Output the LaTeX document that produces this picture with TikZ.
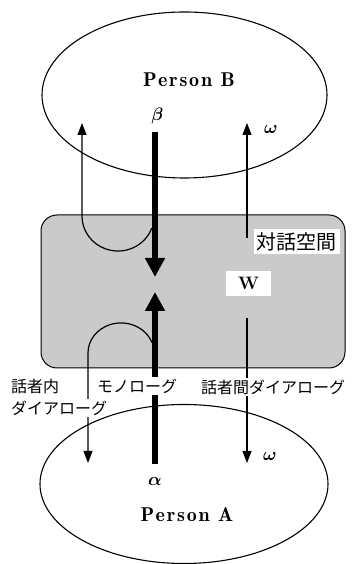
\documentclass[tikz,border=0pt]{standalone}
\usepackage{fontspec}
\newfontfamily\jp{Noto Sans CJK JP}
\newfontfamily\personfont{lmromandemi10-regular.otf}[LetterSpace=9]
\newfontfamily\greekfont{latinmodern-math.otf}
\usetikzlibrary{arrows.meta,shapes.geometric}
\definecolor{boxgray}{RGB}{202,202,202}
\begin{document}
\begin{tikzpicture}[x=1pt,y=1pt,
  thinarrow/.style={line width=1.2pt,-{Triangle[length=12pt,width=9pt]}},
  thickarrow/.style={line width=6pt,-{Triangle[length=19pt,width=19pt]}},
  personellipse/.style={ellipse,draw,line width=1.1pt,inner sep=0pt},
  jplabel/.style={font=\jp\fontsize{16}{16}\selectfont,fill=white,inner xsep=2pt,inner ysep=2pt,anchor=west},
  greek/.style={font=\greekfont\fontsize{18}{18}\selectfont,inner sep=0pt},
  personlabel/.style={font=\personfont\fontsize{20}{20}\selectfont,inner sep=0pt}]
\useasboundingbox (0,0) rectangle (352,564);
% dialogue space
\node[draw,line width=1pt,fill=boxgray,rounded corners=16pt,minimum width=304pt,minimum height=153pt] (space) at (193,272.5) {};
% coordinates
\coordinate (tlStart) at (151.8,336);
\coordinate (tlEnd) at (82,441);
\coordinate (trStart) at (247,326);
\coordinate (trEnd) at (247,441);
\coordinate (tbStart) at (155,432);
\coordinate (tbEnd) at (155,287);
\coordinate (bbStart) at (155,100);
\coordinate (bbEnd) at (155,272);
\coordinate (brStart) at (247,246);
\coordinate (brEnd) at (247,101);
\coordinate (blStart) at (152.0,221.3);
\coordinate (blEnd) at (88,101);
% arrows
\draw[thinarrow] (tlStart) arc[start angle=-20,end angle=-180,x radius=36pt,y radius=35pt] -- (tlEnd);
\draw[thinarrow] (trStart) -- (trEnd);
\draw[thickarrow] (tbStart) -- (tbEnd);
\draw[thickarrow] (bbStart) -- (bbEnd);
\draw[thinarrow] (brStart) -- (brEnd);
\draw[thinarrow] (blStart) arc[start angle=20,end angle=180,x radius=33pt,y radius=30pt] -- (blEnd);
% labels
\node[fill=white,inner xsep=3pt,inner ysep=3.5pt,font=\jp\fontsize{20}{20}\selectfont] (spacelabel) at (296.5,322.5) {対話空間};
\node[fill=white,minimum width=45pt,minimum height=25pt,inner sep=0pt,font=\bfseries\fontsize{18}{18}\selectfont] (w) at (248.5,280.5) {W};
\node[jplabel] (l1) at (9,178) {話者内};
\node[jplabel] (l2) at (9,156) {ダイアローグ};
\node[jplabel] (l3) at (95,178) {モノローグ};
\node[jplabel] (l4) at (199,177) {話者間ダイアローグ};
\node[greek] (beta) at (157,448) {𝜷};
\node[greek] (alpha) at (155,82) {𝜶};
\node[greek] (omegaT) at (271,434) {𝝎};
\node[greek] (omegaB) at (270,108) {𝝎};
% persons
\node[personellipse,minimum width=285pt,minimum height=166pt] (personB) at (184.5,469) {};
\node[personellipse,minimum width=288pt,minimum height=159pt] (personA) at (184,80) {};
\node[personlabel] (pB) at (189,484) {Person B};
\node[personlabel] (pA) at (187,49) {Person A};
\end{tikzpicture}
\end{document}
